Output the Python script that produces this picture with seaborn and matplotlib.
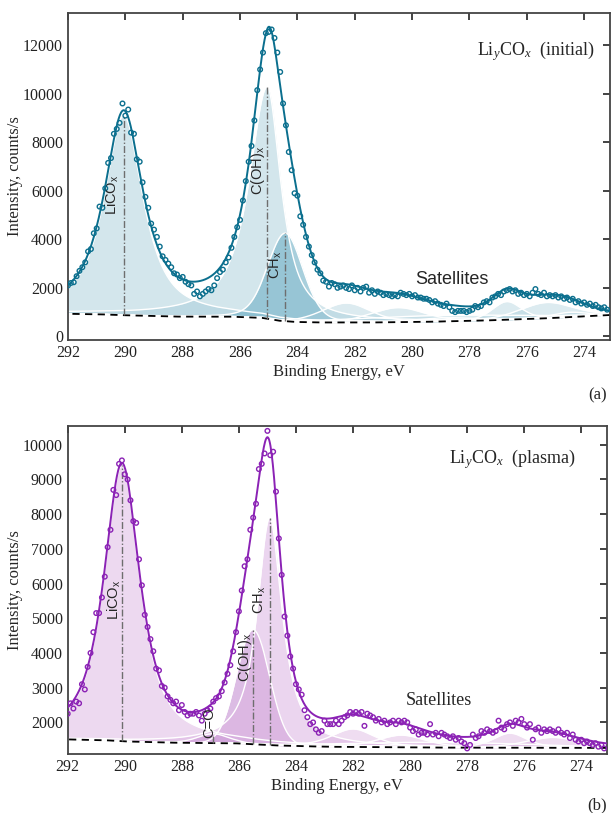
import numpy as np
import matplotlib
matplotlib.use("Agg")
import matplotlib.pyplot as plt
import seaborn as sns

# binding energy grid of the measured points, eV (292.0 ... 273.2, step 0.1)
energy = np.round(np.arange(292.0, 273.15, -0.1), 1)
efine = np.linspace(292.0, 273.1, 900)

# ---- (a) LiyCOx initial: measured counts ----
counts_a = [
    2100, 2200, 2230, 2480, 2700, 2850, 3050, 3500, 3600, 4250,
    4450, 5350, 5300, 6100, 7150, 7350, 8350, 8550, 8800, 9600,
    9100, 9350, 8400, 8350, 7300, 7200, 6350, 5750, 5300, 4650,
    4400, 4100, 3700, 3300, 3150, 3000, 2850, 2600, 2550, 2400,
    2450, 2250, 2150, 2100, 1750, 1850, 1650, 1750, 1850, 1950,
    1900, 2100, 2400, 2650, 2750, 3050, 3250, 3650, 4100, 4500,
    4800, 5600, 6400, 7200, 7850, 8900, 10150, 11000, 11700, 12500,
    12550, 12650, 12300, 11700, 10900, 9600, 8700, 7600, 6850, 5900,
    5800, 4950, 4600, 4100, 3700, 3350, 3050, 2750, 2600, 2300,
    2250, 2050, 2200, 2150, 2000, 2050, 2100, 2000, 1950, 2100,
    1900, 2000, 1850, 2000, 2050, 1800, 1900, 1750, 1850, 1800,
    1700, 1750, 1700, 1650, 1700, 1650, 1800, 1750, 1700, 1750,
    1650, 1700, 1600, 1600, 1550, 1550, 1500, 1400, 1450, 1350,
    1300, 1250, 1350, 1200, 1050, 1000, 1050, 1050, 1050, 1000,
    1050, 1100, 1250, 1200, 1250, 1400, 1450, 1400, 1600, 1650,
    1750, 1700, 1850, 1900, 1950, 1850, 1900, 1750, 1800, 1700,
    1750, 1650, 1800, 1950, 1750, 1700, 1800, 1650, 1700, 1650,
    1700, 1600, 1650, 1550, 1600, 1500, 1550, 1400, 1450, 1350,
    1400, 1300, 1350, 1250, 1300, 1200, 1150, 1200, 1100,
]

# ---- (b) LiyCOx plasma: measured counts ----
counts_b = [
    2250, 2550, 2400, 2600, 2550, 3100, 2950, 3600, 4000, 4600,
    5150, 5150, 5600, 6200, 7050, 7550, 8700, 8550, 9450, 9550,
    9150, 9000, 8400, 7800, 7750, 6700, 5950, 5100, 4750, 4400,
    4050, 3550, 3500, 3050, 3000, 2750, 2650, 2550, 2600, 2350,
    2500, 2300, 2200, 2250, 2250, 2300, 2200, 2050, 2250, 2350,
    2400, 2600, 2700, 2750, 2900, 3150, 3400, 3650, 4050, 4600,
    5200, 5800, 6500, 6700, 7550, 7900, 8300, 9300, 9450, 9750,
    10400, 9700, 9800, 8650, 7300, 6250, 5050, 4500, 3900, 3550,
    3100, 2950, 2800, 2350, 2150, 1950, 2000, 1800, 1700, 1750,
    2050, 1950, 1950, 1950, 2050, 1950, 2050, 2150, 2200, 2300,
    2250, 2300, 2250, 2300, 1900, 2250, 2200, 2150, 2050, 2100,
    2000, 2050, 1950, 2000, 2050, 1950, 2050, 2000, 2050, 2000,
    1850, 1750, 1800, 1650, 1700, 1700, 1650, 1950, 1650, 1700,
    1600, 1700, 1650, 1600, 1550, 1600, 1500, 1550, 1450, 1400,
    1250, 1350, 1650, 1550, 1600, 1750, 1700, 1800, 1750, 1700,
    1750, 2050, 1850, 1800, 1950, 2000, 1900, 2050, 2000, 2100,
    1950, 1850, 1950, 1500, 1800, 1850, 1700, 1800, 1750, 1800,
    1750, 1700, 1800, 1700, 1650, 1700, 1550, 1650, 1500, 1450,
    1500, 1400, 1450, 1400, 1350, 1400, 1300, 1350, 1250,
]

# ---- (a) fit: background nodes and components (pseudo-Voigt) ----
bg_a_e = [292.0, 290.6, 289.8, 288.0, 286.2, 285.2, 284.6, 284.0, 283.0, 281.0, 279.0, 277.0, 275.0, 273.1]
bg_a_i = [930, 900, 860, 810, 810, 760, 640, 590, 570, 575, 610, 670, 760, 880]
pk_a_pos = [290.06, 285.05, 284.42, 282.3, 280.5, 276.7, 275.3, 279.0, 278.8, 274.5]
pk_a_h = [8235, 9550, 3630, 800, 600, 750, 650, 250, 150, 200]
pk_a_whi = [1.62, 1.52, 1.45, 2.0, 2.2, 1.2, 2.2, 7.0, 2.5, 1.5]
pk_a_wlo = [1.62, 1.15, 1.45, 2.0, 2.2, 1.2, 2.2, 7.0, 2.5, 1.5]
pk_a_m = [0.85, 0.9, 0.2, 0.3, 0.3, 0.3, 0.3, 0.0, 0.3, 0.3]
lab_a = ["LiCO$_\\mathsf{x}$", "C(OH)$_\\mathsf{x}$", "CH$_\\mathsf{x}$"]

# ---- (b) fit ----
bg_b_e = [292.0, 290.5, 289.8, 288.0, 286.0, 285.3, 284.5, 283.0, 282.0, 278.0, 273.1]
bg_b_i = [1510, 1480, 1445, 1410, 1395, 1360, 1330, 1300, 1290, 1270, 1265]
pk_b_pos = [290.1, 286.9, 285.5, 284.92, 282.0, 280.3, 276.5, 275.0, 279.0]
pk_b_h = [7950, 270, 3300, 6550, 520, 350, 420, 300, 150]
pk_b_whi = [1.5, 1.3, 1.35, 1.05, 1.8, 2.0, 1.4, 2.2, 8.0]
pk_b_wlo = [1.5, 1.3, 1.35, 1.05, 1.8, 2.0, 1.4, 2.2, 8.0]
pk_b_m = [0.8, 0.3, 0.0, 0.9, 0.5, 0.5, 0.5, 0.5, 0.0]
lab_b = ["LiCO$_\\mathsf{x}$", "C=O", "C(OH)$_\\mathsf{x}$", "CH$_\\mathsf{x}$"]


def pvoigt(x, c, h, whi, wlo, m):
    w = np.where(x > c, whi, wlo)
    d = (x - c) / w
    return h * (m / (1 + 4 * d ** 2) + (1 - m) * np.exp(-4 * np.log(2) * d ** 2))


def model(x, bge, bgi, pos, h, whi, wlo, m):
    bg = np.interp(x, bge[::-1], bgi[::-1])
    comps = [pvoigt(x, *p) for p in zip(pos, h, whi, wlo, m)]
    return bg, comps, bg + np.sum(comps, axis=0)


sns.set_style("white")
plt.rcParams["font.family"] = ["Liberation Serif", "DejaVu Serif"]
plt.rcParams["mathtext.fontset"] = "custom"
plt.rcParams["mathtext.rm"] = "Liberation Serif"
plt.rcParams["mathtext.it"] = "Liberation Serif:italic"
plt.rcParams["mathtext.sf"] = "Liberation Sans"

fig = plt.figure(figsize=(6.12, 8.13), dpi=100)
ax_a = fig.add_axes([0.1111, 0.5818, 0.8856, 0.4028])
ax_b = fig.add_axes([0.1106, 0.0726, 0.8812, 0.4038])

panels = [
    (ax_a, counts_a, bg_a_e, bg_a_i, pk_a_pos, pk_a_h, pk_a_whi, pk_a_wlo, pk_a_m, "#0b6f8e",
     ["#a9cedb", "#a9cedb", "#6fb0c6"] + ["#a9cedb"] * 7, [0.5, 0.5, 0.6] + [0.4] * 7, lab_a),
    (ax_b, counts_b, bg_b_e, bg_b_i, pk_b_pos, pk_b_h, pk_b_whi, pk_b_wlo, pk_b_m, "#8b22b5",
     ["#dcb4e2", "#b97cc8", "#c690d2", "#dcb4e2"] + ["#dcb4e2"] * 5, [0.5, 0.6, 0.6, 0.55] + [0.45] * 5, lab_b),
]

for ax, counts, bge, bgi, pos, h, whi, wlo, m, col, fcols, falph, labs in panels:
    bg, comps, fit = model(efine, bge, bgi, pos, h, whi, wlo, m)
    for comp, fc, fa in zip(comps, fcols, falph):
        ax.fill_between(efine, bg, bg + comp, color=fc, alpha=fa, lw=0)
        sns.lineplot(x=efine, y=bg + comp, ax=ax, color="white", lw=1.0)
    sns.lineplot(x=efine, y=bg, ax=ax, color="black", lw=1.3, linestyle=(0, (4, 3)))
    # dash-dot markers at the main peak positions
    for i in range(len(labs)):
        c = pos[i]
        b0 = np.interp(c, bge[::-1], bgi[::-1])
        ax.plot([c, c], [b0, b0 + h[i]], color="#6e6e6e", lw=1.0, linestyle=(0, (5, 1.5, 1, 1.5)))
    sns.scatterplot(x=energy, y=counts, ax=ax, marker="o", s=11, facecolor="none",
                    edgecolor=col, linewidth=1.0, zorder=3)
    sns.lineplot(x=efine, y=fit, ax=ax, color=col, lw=1.4, zorder=4)

# peak labels
sans = "Liberation Sans"
ax_a.text(290.45, 5840, lab_a[0], rotation=90, ha="center", va="center", fontsize=10.5, family=sans)
ax_a.text(285.39, 6860, lab_a[1], rotation=90, ha="center", va="center", fontsize=10.5, family=sans)
ax_a.text(284.74, 2940, lab_a[2], rotation=90, ha="center", va="center", fontsize=10.5, family=sans)
ax_a.text(278.6, 2330, "Satellites", ha="center", va="center", fontsize=13, family=sans)
ax_b.text(290.35, 5530, lab_b[0], rotation=90, ha="center", va="center", fontsize=10.5, family=sans)
ax_b.text(287.05, 1980, lab_b[1], rotation=90, ha="center", va="center", fontsize=10.5, family=sans)
ax_b.text(285.78, 3880, lab_b[2], rotation=90, ha="center", va="center", fontsize=10.5, family=sans)
ax_b.text(285.26, 5530, lab_b[3], rotation=90, ha="center", va="center", fontsize=10.5, family=sans)
ax_b.text(279.0, 2640, "Satellites", ha="center", va="center", fontsize=13)

ax_a.text(0.972, 0.870, "Li$_{y}$CO$_{x}$  (initial)", transform=ax_a.transAxes, ha="right", va="baseline", fontsize=13)
ax_b.text(0.941, 0.886, "Li$_{y}$CO$_{x}$  (plasma)", transform=ax_b.transAxes, ha="right", va="baseline", fontsize=13)
fig.text(0.992, 0.514, "(a)", ha="right", va="center", fontsize=12)
fig.text(0.992, 0.009, "(b)", ha="right", va="center", fontsize=12)

for ax in (ax_a, ax_b):
    ax.set_xlim(292, 273.1)
    ax.set_xticks(np.arange(292, 273, -2))
    ax.tick_params(direction="in", top=True, right=True, length=5, width=1.2,
                   labelsize=11.5, colors="#222222")
    for s in ax.spines.values():
        s.set_color("#444444")
        s.set_linewidth(1.3)
    ax.set_xlabel("Binding Energy, eV", fontsize=12, labelpad=2)
    ax.set_ylabel("Intensity, counts/s", fontsize=12, labelpad=0)

ax_a.set_ylim(-150, 13350)
ax_a.set_yticks(np.arange(0, 12001, 2000))
ax_b.set_ylim(1090, 10550)
ax_b.set_yticks(np.arange(2000, 10001, 1000))

fig.savefig("out.png", dpi=100)
